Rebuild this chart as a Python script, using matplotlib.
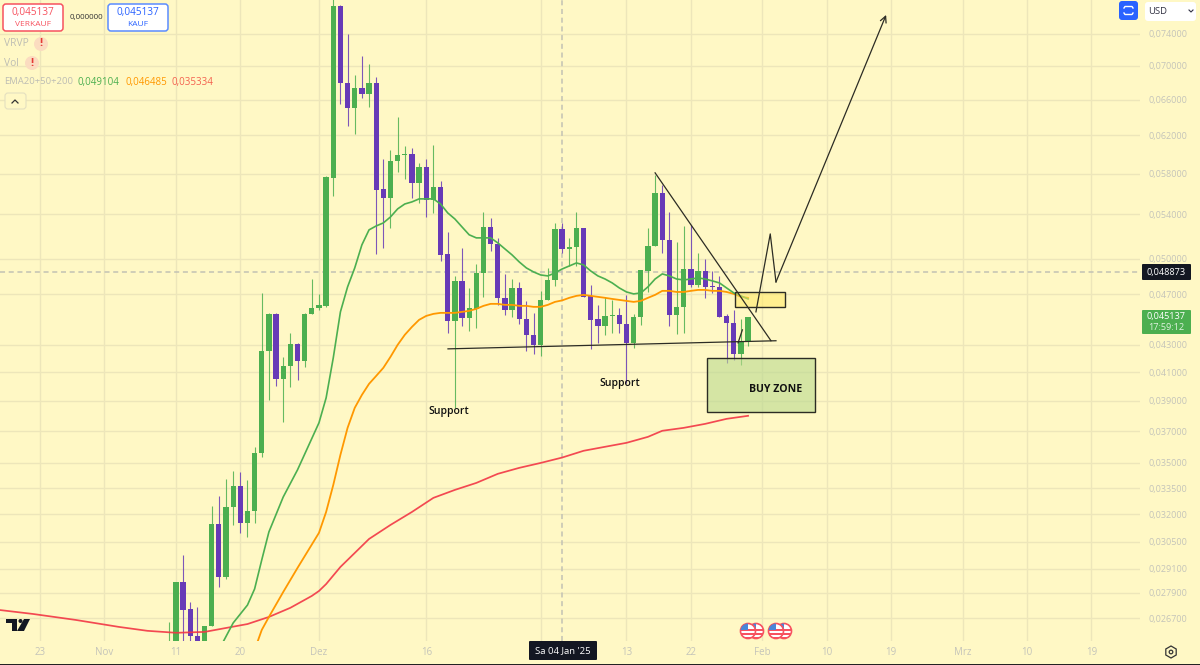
import numpy as np
import pandas as pd

import matplotlib
matplotlib.use("Agg")
import matplotlib.pyplot as plt
from matplotlib.patches import Circle, FancyBboxPatch, Polygon, Rectangle, RegularPolygon
from matplotlib.ticker import FixedLocator, FixedFormatter

plt.rcParams["font.family"] = ["Open Sans", "DejaVu Sans"]

# --- daily candles, 10 Nov 2024 to 30 Jan 2025 ---
candle_dates = pd.date_range("2024-11-10", "2025-01-30")
opens = [.02525, .02482, .02843, .02713, .02588, .02503, .02634, .03146, .02869, .03241, .03363,
         .03151, .03218, .03562, .04257, .04540, .04053, .04146, .04309, .04183, .04540,
         .04588, .04604, .05756, .07770, .06794, .06504, .06734, .06664, .06794, .05647,
         .05558, .05930, .05992, .06002, .05706, .05868, .05539, .05667, .05040, .04485,
         .04809, .04509, .04580, .04876, .05284, .05130, .04669, .04572, .04750, .04501, .04377,
         .04301, .04652, .04817, .05266, .05085, .05103, .05275, .04685, .04501, .04446,
         .04524, .04532, .04461, .04316, .04517, .04893, .05112, .05607, .05166, .04532,
         .04596, .04911, .04775, .04893, .04767, .04759, .04524, .04469, .04235, .04324]
closes = [.02548, .02843, .02708, .02588, .02525, .02634, .03146, .02869, .03241, .03363, .03151,
          .03218, .03562, .04257, .04540, .04053, .04146, .04309, .04183, .04540, .04588,
          .04612, .05767, .07770, .06794, .06504, .06734, .06664, .06794, .05637, .05558,
          .05930, .05992, .06002, .05706, .05868, .05539, .05667, .05032, .04485, .04809,
          .04509, .04588, .04876, .05284, .05130, .04669, .04572, .04750, .04501, .04377, .04301,
          .04652, .04817, .05266, .05085, .05103, .05275, .04677, .04493, .04446, .04524,
          .04532, .04461, .04316, .04517, .04902, .05112, .05607, .05166, .04532, .04596,
          .04911, .04775, .04893, .04759, .04759, .04517, .04469, .04235, .04324, .045137]
highs = [.02652, .02843, .02981, .02745, .02722, .02634, .03247, .03304, .03404, .03452, .03446,
         .03398, .03600, .04709, .04548, .04548, .04212, .04392, .04316, .04548, .04825,
         .04701, .05777, .0789, .07783, .07400, .06890, .07121, .07022, .06866, .05950,
         .06044, .06403, .06086, .06065, .05909, .05950, .06097, .05726, .05239, .04851,
         .05094, .04750, .04953, .05424, .05368, .05184, .04868, .04825, .04800, .04644, .04548,
         .04726, .04919, .05321, .05321, .05184, .05424, .05275, .04775, .04612, .04677,
         .04652, .04588, .04693, .04540, .04902, .05275, .05787, .05686, .05424, .05148,
         .05293, .05303, .05049, .04997, .04893, .04851, .04540, .04572, .04501, .045137]
lows = [.02503, .02460, .02561, .02548, .02503, .02482, .02634, .02818, .02858, .03141, .03098,
        .03076, .03151, .03537, .03907, .04004, .03760, .03997, .04046, .04139, .04540,
        .04572, .04596, .05578, .06549, .06302, .06216, .06617, .06515, .05040, .05094,
        .05275, .05817, .05746, .05558, .05510, .05377, .05415, .04979, .04392, .03853,
        .04446, .04407, .04431, .04677, .05067, .04612, .04532, .04517, .04461, .04257, .04235,
        .04220, .04652, .04767, .05049, .04936, .04936, .04677, .04271, .04316, .04377,
        .04392, .04392, .04025, .04279, .04454, .04717, .05112, .05049, .04446, .04385,
        .04392, .04759, .04759, .04669, .04709, .04517, .04168, .04190, .04154, .04294]

# --- moving averages, day numbers count from 1 Dec 2024 ---
ema20_days = [-14, -12, -10, -9, -8, -7, -5, -3, 0, 1, 2] + list(range(3, 61))
ema20 = [.02525, .02647, .02731, .02809, .02955, .03103, .03298, .03458, .03754, .03921, .04205,
         .04556, .04759, .04919, .05121, .05257, .05293, .05321, .05377, .05453, .05500, .05520,
         .05549, .05549, .05549, .05500, .05415, .05358, .05284, .05212, .05184, .05184, .05184,
         .05139, .05085, .05032, .04971, .04919, .04885, .04859, .04851, .04876, .04910, .04936,
         .04962, .04945, .04893, .04851, .04825, .04792, .04750, .04717, .04701, .04709, .04759,
         .04825, .04868, .04851, .04825, .04817, .04825, .04834, .04825, .04809, .04792, .04750,
         .04709, .04685, .04660]
ema50_days = [-9, -8, -7, -5, -3, 0, 1, 2] + list(range(3, 61))
ema50 = [.02525, .02615, .02675, .02794, .02914, .03098, .03213, .03368,
         .03550, .03721, .03853, .03941, .04018, .04074, .04132, .04212, .04301, .04377, .04438,
         .04493, .04524, .04540, .04548, .04548, .04548, .04556, .04564, .04580, .04604, .04620,
         .04620, .04612, .04612, .04604, .04604, .04596, .04596, .04612, .04636, .04648, .04669,
         .04685, .04693, .04685, .04677, .04669, .04660, .04652, .04644, .04636, .04644, .04669,
         .04693, .04726, .04726, .04717, .04717, .04726, .04734, .04734, .04726, .04726, .04717,
         .04701, .04677, .04669]
ema200_days = [-46, -40, -34, -28, -24, -20, -16, -13, -10, -7, -4, -1, 0, 1, 3, 5, 7, 10, 13, 16,
               19, 22, 25, 28, 31, 34, 37, 40, 43, 46, 48, 51, 54, 57, 60]
ema200 = [.02713, .02689, .02661, .02629, .02611, .02602, .02606, .02624, .02642, .02675, .02718,
          .02775, .02799, .02833, .02919, .02991, .03065, .03141, .03213, .03293, .03339, .03380,
          .03434, .03470, .03500, .03533, .03575, .03600, .03625, .03663, .03702, .03721, .03747,
          .03780, .03800]

# --- axis ---
price_ticks = [.074, .070, .066, .062, .058, .054, .050, .047, .043, .041, .039, .037, .035,
               .0335, .032, .0305, .0291, .0279, .0267]
date_ticks = ["2024-10-23", "2024-11-01", "2024-11-11", "2024-11-20", "2024-12-01", "2024-12-16",
              "2025-01-01", "2025-01-13", "2025-01-22", "2025-02-01", "2025-02-10", "2025-02-19",
              "2025-03-01", "2025-03-10", "2025-03-19"]
date_labels = ["23", "Nov", "11", "20", "Dez", "16", "", "13", "22", "Feb", "10", "19", "Mrz", "10", "19"]

# --- hand drawn trade idea ---
support_days, support_prices = [18.04, 63.9], [.04271, .04332]
wedge_days, wedge_prices = [47, 63.2], [.05807, .04332]
tick_days, tick_prices = [58.6, 59.2], [.04316, .04415]
path_days, path_prices = [61.1, 63.1, 63.9], [.04556, .05220, .04800]
arrow_day, arrow_price = 79.3, .07650

BG = "#fff8c5"
GRID = "#ede6ba"
GREEN = "#4caf50"
PURPLE = "#673ab7"
ORANGE = "#ff9800"
RED = "#f23645"
AXIS_TEXT = "#c4c4ba"
DARK = "#131722"
DRAW = "#2c2c24"

DEC1 = pd.Timestamp("2024-12-01")


def day_no(when):
    return (pd.Timestamp(when) - DEC1).days


fig = plt.figure(figsize=(12, 6.65), dpi=100, facecolor=BG)
ax = fig.add_axes([0, 1 - 641 / 665, 1140 / 1200, 641 / 665], facecolor=BG)
ax.set_yscale("log")
ax.set_xlim(-44.6, 114.8)
ax.set_ylim(.02565, .07852)
for side in ax.spines.values():
    side.set_visible(False)

ax.xaxis.set_major_locator(FixedLocator([day_no(d) for d in date_ticks]))
ax.xaxis.set_major_formatter(FixedFormatter(date_labels))
ax.yaxis.set_minor_locator(FixedLocator([]))
ax.yaxis.tick_right()
ax.set_yticks(price_ticks)
ax.set_yticklabels([f"{p:.6f}".replace(".", ",") for p in price_ticks])
ax.tick_params(axis="x", length=0, labelsize=7, labelcolor=AXIS_TEXT, pad=4)
ax.tick_params(axis="y", length=0, labelsize=6.5, labelcolor=AXIS_TEXT, pad=6)
ax.tick_params(axis="y", which="minor", length=0)
ax.grid(True, color=GRID, lw=1)
ax.set_axisbelow(True)

# crosshair
ax.axhline(.048873, color="#c2c2b4", lw=1.1, ls=(0, (3.3, 2.4)), zorder=1)
ax.axvline(day_no("2025-01-04"), color="#c2c2b4", lw=1.1, ls=(0, (3.3, 2.4)), zorder=1)

# candles
xs = np.array([day_no(d) for d in candle_dates])
o, c, h, l = map(np.array, (opens, closes, highs, lows))
cols = [GREEN if b >= a else PURPLE for a, b in zip(o, c)]
ax.vlines(xs, l, h, colors=cols, lw=0.8, alpha=0.85, zorder=2)
ax.bar(xs, np.abs(c - o), width=0.74, bottom=np.minimum(o, c), color=cols, zorder=3, linewidth=0)

# averages
ax.plot(ema200_days, ema200, color=RED, lw=1.25, zorder=4, alpha=0.9)
ax.plot(ema50_days, ema50, color=ORANGE, lw=1.3, zorder=4)
ax.plot(ema20_days, ema20, color=GREEN, lw=1.2, zorder=4)

# drawings
ax.add_patch(Rectangle((54.3, .03826), 15, .04205 - .03826, fc="#b9d98f", ec="none",
                       alpha=0.6, zorder=5))
ax.add_patch(Rectangle((54.3, .03826), 15, .04205 - .03826, fc="none", ec=DRAW, lw=1.0, zorder=5))
ax.add_patch(Rectangle((58.2, .04596), 7, .04717 - .04596, fc="#ffe866", ec="none", alpha=0.55,
                       zorder=5))
ax.add_patch(Rectangle((58.2, .04596), 7, .04717 - .04596, fc="none", ec=DRAW, lw=1.0, zorder=5))
ax.plot(support_days, support_prices, color=DRAW, lw=0.9, zorder=6)
ax.plot(wedge_days, wedge_prices, color=DRAW, lw=0.9, zorder=6)
ax.plot(tick_days, tick_prices, color=DRAW, lw=0.9, zorder=6)
ax.plot(path_days, path_prices, color=DRAW, lw=0.9, zorder=6)
ax.annotate("", xy=(arrow_day, arrow_price), xytext=(path_days[-1], path_prices[-1]), zorder=6,
            arrowprops=dict(arrowstyle="->", color=DRAW, lw=0.9, mutation_scale=11,
                            shrinkA=0, shrinkB=0))
ax.text(63.9, .03976, "BUY ZONE", ha="center", va="center", fontsize=7.6, color="#111111",
        fontweight="bold", zorder=7)
ax.text(18.1, .03826, "Support", ha="center", va="center", fontsize=7.6, color="#111111",
        fontweight="semibold", zorder=7)
ax.text(42, .04018, "Support", ha="center", va="center", fontsize=7.6, color="#111111",
        fontweight="semibold", zorder=7)

# --- screen furniture on a pixel overlay ---
ui = fig.add_axes([0, 0, 1, 1], facecolor="none")
ui.set_xlim(0, 1200)
ui.set_ylim(665, 0)
ui.axis("off")


def rbox(x0, y0, x1, y1, fc, ec="none", lw=1.0, r=3):
    ui.add_patch(FancyBboxPatch((x0 + r, y0 + r), x1 - x0 - 2 * r, y1 - y0 - 2 * r,
                                boxstyle=f"round,pad={r},rounding_size={r}", fc=fc, ec=ec, lw=lw))


def label(x, y, s, color, size=7, ha="left", **kw):
    ui.text(x, y, s, color=color, fontsize=size, ha=ha, va="center", **kw)


rbox(3, 4, 63, 31, "white", "#f7525f", 1.1)
label(33, 12, "0,045137", "#f7525f", 7.2, "center")
label(33, 24, "VERKAUF", "#f7525f", 6, "center")
label(86, 18, "0,000000", "#333333", 5.8, "center")
rbox(108, 4, 168, 31, "white", "#5b8cff", 1.1)
label(138, 12, "0,045137", "#2962ff", 7.2, "center")
label(138, 24, "KAUF", "#2962ff", 6, "center")

label(4, 44, "VRVP", "#bdbdb4", 7.4)
ui.add_patch(Circle((41, 44), 7, fc="#fbdcc0", ec="none"))
label(41, 44, "!", "#e53935", 8, "center", fontweight="bold")
label(4, 63, "Vol", "#bdbdb4", 7.4)
ui.add_patch(Circle((32, 63), 7, fc="#fbdcc0", ec="none"))
label(32, 63, "!", "#e53935", 8, "center", fontweight="bold")
label(4, 82, "EMA20+50+200", "#bdbdb4", 6.8)
label(78, 82, "0,049104", GREEN, 7)
label(125, 82, "0,046485", ORANGE, 7)
label(171, 82, "0,035334", "#f4614f", 7)
rbox(5, 93, 26, 109, BG, "#e4dfc0", 0.8)
ui.plot([12, 15, 18], [103, 100, 103], color="#333333", lw=0.9)

rbox(1119, 1, 1138, 20, "#2962ff", r=3)
ui.plot([1124, 1125, 1132, 1133], [8, 6.5, 6.5, 8], color="white", lw=1)
ui.plot([1124, 1125, 1132, 1133], [13, 14.5, 14.5, 13], color="white", lw=1)
rbox(1145, 2, 1196, 21, "white", r=3)
label(1148, 11, "USD", "#333344", 6.8)
ui.plot([1189, 1191, 1193], [10, 12, 10], color="#333344", lw=0.8)

rbox(1142, 264, 1191, 280, DARK, r=1)
label(1166, 272, "0,048873", "white", 6.6, "center")
rbox(1142, 310, 1191, 334, GREEN, r=1)
label(1166, 316.5, "0,045137", "white", 6.6, "center")
label(1166, 328, "17:59:12", "#dff2df", 6.6, "center")

rbox(529, 641, 597, 660, DARK, r=1)
label(563, 651, "Sa 04 Jan '25", "white", 6.8, "center")

ui.add_patch(RegularPolygon((1171, 652), 6, radius=6, fc="none", ec="#333333", lw=0.9))
ui.add_patch(Circle((1171, 652), 1.8, fc="none", ec="#333333", lw=0.9))

# TradingView mark
ui.add_patch(Polygon([(6, 619), (17, 619), (17, 631), (12, 631), (12, 623), (6, 623)], fc=DARK))
ui.add_patch(Circle((20.5, 621), 2, fc=DARK))
ui.add_patch(Polygon([(24, 619), (30, 619), (24, 631), (17, 631)], fc=DARK))

# earnings style flags
for cx in (756, 748, 784, 776):
    edge = Circle((cx, 631), 7.5, fc="white", ec="#f7525f", lw=1.2)
    ui.add_patch(edge)
    for sy in (629, 633, 637):
        stripe = Rectangle((cx - 8, sy), 16, 1.6, fc="#f7525f", ec="none")
        ui.add_patch(stripe)
        stripe.set_clip_path(edge)
    canton = Rectangle((cx - 8, 623), 8, 7, fc="#4a86d8", ec="none")
    ui.add_patch(canton)
    canton.set_clip_path(edge)

ui.add_patch(Rectangle((0, 664), 1200, 1, fc="#222222", ec="none"))

fig.savefig("out.png", dpi=100, facecolor=BG)
